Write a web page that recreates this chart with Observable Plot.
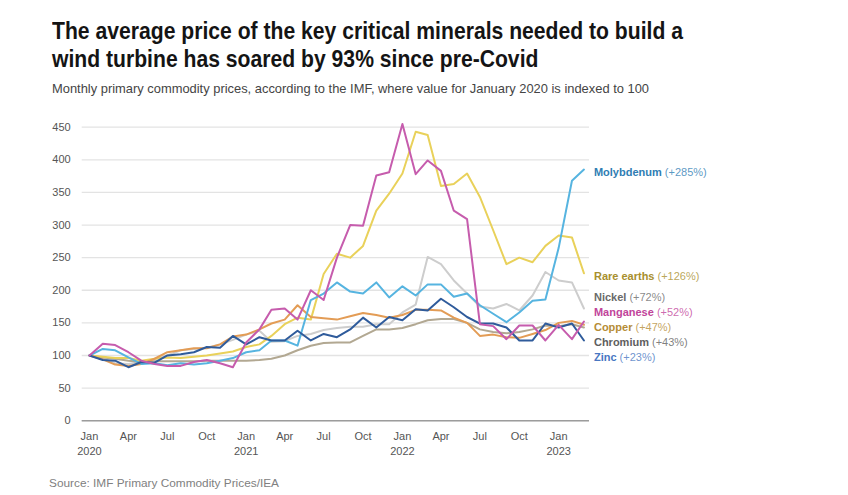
<!DOCTYPE html>
<html>
<head>
<meta charset="utf-8">
<script src="https://cdn.jsdelivr.net/npm/d3@7"></script>
<script src="https://cdn.jsdelivr.net/npm/@observablehq/plot@0.6"></script>
<style>
  html, body { margin: 0; padding: 0; background: #fff; width: 848px; height: 495px; overflow: hidden;
    font-family: "Liberation Sans", Arial, sans-serif; }
  .t { position: absolute; white-space: nowrap; transform-origin: 0 0; }
  #title1, #title2 { left: 52px; font-weight: 700; font-size: 24px; line-height: 27.4px; color: #141414; }
  #sub { left: 52px; font-size: 13px; line-height: 16px; color: #444; }
  #src { left: 49px; font-size: 11px; line-height: 14px; color: #808080; }
  #chart { position: absolute; left: 0; top: 100px; }
</style>
</head>
<body>
<div id="title1" class="t" style="top:17.3px">The average price of the key critical minerals needed to build a</div>
<div id="title2" class="t" style="top:44.7px">wind turbine has soared by 93% since pre-Covid</div>
<div id="sub" class="t" style="top:80.8px">Monthly primary commodity prices, according to the IMF, where value for January 2020 is indexed to 100</div>
<div id="chart"></div>
<div id="src" class="t" style="top:475.9px">Source: IMF Primary Commodity Prices/IEA</div>

<script>
// ---------- data (Jan 2020 … Mar 2023, monthly, Jan 2020 = 100) ----------
const months = d3.utcMonth.range(new Date(Date.UTC(2020, 0, 1)), new Date(Date.UTC(2023, 3, 1)));

const molybdenum = [100,110,108,97,87,88,85,88,86,88,92,96,
  105,108,123,123,115,185,195,212,198,195,212,189,
  206,192,209,209,190,195,177,164,151,166,184,186,
  265,368,385];
const rareEarths = [100,98,96,96,92,95,97,96,98,100,103,106,
  113,117,130,148,158,155,225,256,250,268,322,348,
  379,443,438,360,363,379,343,292,240,250,243,268,
  284,281,226];
const nickel = [100,95,88,87,90,94,100,108,110,112,117,124,
  132,138,121,122,130,133,139,142,144,144,148,148,
  166,178,251,240,215,195,175,172,179,169,192,228,
  215,212,172];
const manganese = [100,118,116,105,92,87,84,84,90,93,88,82,
  120,140,170,172,155,200,185,250,300,299,376,381,
  455,378,399,383,322,309,148,145,125,146,146,123,
  147,125,152];
const copper = [100,94,86,84,87,95,105,108,111,111,117,129,
  132,140,149,155,177,159,157,155,160,165,162,158,
  162,170,170,169,158,150,130,132,128,127,133,139,
  150,153,147];
const chromium = [100,97,95,92,90,91,91,91,91,92,92,92,
  92,93,95,100,108,115,119,120,120,130,140,140,
  142,148,154,156,156,150,140,136,134,136,140,146,
  145,148,143];
const zinc = [100,93,92,82,90,89,100,102,105,113,112,130,
  117,128,123,123,138,123,133,128,140,158,143,159,
  154,171,169,187,174,159,149,149,143,123,123,149,
  143,149,123];

const seriesNames = ["Molybdenum", "Rare earths", "Nickel", "Manganese", "Copper", "Chromium", "Zinc"];
const changeLabels = ["+285%", "+126%", "+72%", "+52%", "+47%", "+43%", "+23%"];
const seriesValues = [molybdenum, rareEarths, nickel, manganese, copper, chromium, zinc];

const yTicks = [0, 50, 100, 150, 200, 250, 300, 350, 400, 450];
const monthLabels = ["Jan", "Feb", "Mar", "Apr", "May", "Jun", "Jul", "Aug", "Sep", "Oct", "Nov", "Dec"];
const xTicks = d3.utcMonth.every(3).range(new Date(Date.UTC(2020, 0, 1)), new Date(Date.UTC(2023, 1, 1)));

// ---------- styles ----------
const lineColors = {
  "Molybdenum": "#56b4e0", "Rare earths": "#e9d15a", "Nickel": "#cdcdcd", "Manganese": "#c65cad",
  "Copper": "#e39c55", "Chromium": "#b2a892", "Zinc": "#2f5b9b"
};
const labelColors = {
  "Molybdenum": "#2f7db3", "Rare earths": "#a88f2e", "Nickel": "#6a6a6a", "Manganese": "#c1449a",
  "Copper": "#b58c36", "Chromium": "#5e5e5e", "Zinc": "#4877c2"
};
const drawOrder = ["Nickel", "Chromium", "Rare earths", "Copper", "Molybdenum", "Zinc", "Manganese"];

// ---------- layout ----------
const W = 848, H = 365;
const M = {top: 26.7, right: 259, bottom: 44.8, left: 81.7};

// ---------- build rows ----------
const rows = [];
seriesNames.forEach((name, s) => {
  seriesValues[s].forEach((v, i) => rows.push({series: name, date: months[i], value: v}));
});

// end labels with simple vertical dodge in pixel space
const yPix = d3.scaleLinear([0, 450], [H - M.bottom, M.top]);
const labels = seriesNames.map((name, s) => {
  const vals = seriesValues[s];
  return {series: name, change: changeLabels[s], date: months[vals.length - 1], py: yPix(vals[vals.length - 1])};
});
const sorted = labels.slice().sort((a, b) => a.py - b.py);
const gap = 15.2;
for (let it = 0; it < 300; it++) {
  for (let i = 1; i < sorted.length; i++) {
    const d = sorted[i].py - sorted[i - 1].py;
    if (d < gap) { const sh = (gap - d) / 2; sorted[i - 1].py -= sh; sorted[i].py += sh; }
  }
}
labels.forEach(l => { l.ly = yPix.invert(l.py); l.color = labelColors[l.series]; });

const lineMarks = drawOrder.map(name =>
  Plot.lineY(rows.filter(r => r.series === name), {
    x: "date", y: "value", stroke: lineColors[name], strokeWidth: 2, curve: "linear"
  })
);

const plot = Plot.plot({
  width: W, height: H,
  marginTop: M.top, marginRight: M.right, marginBottom: M.bottom, marginLeft: M.left,
  style: {fontFamily: "'Liberation Sans', Arial, sans-serif", fontSize: "11px", color: "#555", background: "transparent", overflow: "visible"},
  x: {type: "utc", domain: [new Date(Date.UTC(2019, 11, 15)), new Date(Date.UTC(2023, 2, 14))]},
  y: {domain: [0, 450]},
  color: {type: "identity"},
  marks: [
    Plot.gridY(yTicks, {stroke: "#e3e3e3", strokeOpacity: 1, strokeWidth: 1.3}),
    Plot.ruleY([0], {stroke: "#9c9c9c", strokeWidth: 1.4}),
    Plot.axisY(yTicks, {tickSize: 0, tickPadding: 11.5, fill: "#555", fontSize: 11, label: null}),
    Plot.axisX(xTicks, {
      tickSize: 0, tickPadding: 9, fill: "#555", fontSize: 11, label: null, lineHeight: 1.35,
      tickFormat: d => {
        const m = monthLabels[d.getUTCMonth()];
        return d.getUTCMonth() === 0 ? m + "\n" + d.getUTCFullYear() : m;
      }
    }),
    ...lineMarks,
    Plot.text(labels, {
      x: "date", y: "ly", text: "series", fill: "color", textAnchor: "start",
      dx: 10, dy: 3, fontSize: 11, fontWeight: 700
    })
  ]
});
document.getElementById("chart").appendChild(plot);

// split each end label into bold name + lighter percentage
const byName = new Map(labels.map(l => [l.series, l]));
d3.select(plot).selectAll("text").each(function () {
  if (this.querySelector("tspan")) return;
  const name = this.textContent;
  const l = byName.get(name);
  if (!l) return;
  const t = d3.select(this);
  t.text(null);
  t.append("tspan").attr("font-weight", 700).text(name);
  t.append("tspan").attr("font-weight", 400).attr("fill-opacity", 0.8).text(" (" + l.change + ")");
});

// fit the header text widths to the reference
function fit(id, targetWidth, scaleFrom) {
  const el = document.getElementById(id);
  const cs = getComputedStyle(el);
  const ctx = document.createElement("canvas").getContext("2d");
  ctx.font = `${cs.fontWeight} ${cs.fontSize} ${cs.fontFamily}`;
  const w = ctx.measureText(el.textContent).width;
  const s = scaleFrom != null ? scaleFrom : targetWidth / w;
  el.style.transform = `scaleX(${s})`;
  return s;
}
const ts = fit("title1", 631);
fit("title2", null, ts);
fit("sub", 597);
fit("src", 230);
</script>
</body>
</html>
